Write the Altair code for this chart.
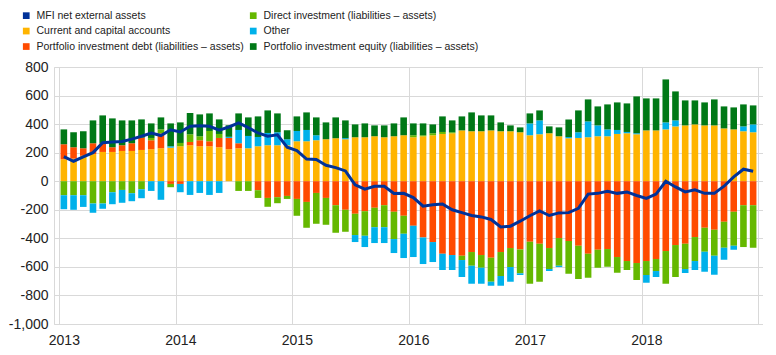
import altair as alt
import pandas as pd

years = ["2013", "2014", "2015", "2016", "2017", "2018"]

current = [154, 158, 178, 190, 205, 205, 212, 212, 219, 224, 231, 235,
           245, 252, 245, 245, 238, 224, 231, 231, 245, 252, 252, 252,
           280, 280, 287, 294, 301, 294, 308, 308, 315, 308, 315, 322,
           308, 315, 322, 331, 336, 356, 350, 350, 356, 350, 350, 343,
           322, 329, 336, 315, 301, 303, 308, 315, 315, 331, 336, 329,
           356, 356, 363, 384, 391, 398, 391, 391, 370, 363, 350, 343]
debt = [105, 80, 53, 76, 63, 33, 40, 54, 86, 63, 104, -19,
        -19, 23, 42, 35, 65, 79, 35, 0, -63, -117, -112, -103,
        -124, -145, -82, -117, -168, -200, -228, -210, -186, -168, -214, -242,
        -312, -394, -426, -508, -517, -522, -496, -517, -536, -496, -468, -478,
        -424, -438, -468, -398, -419, -452, -508, -480, -475, -531, -559, -573,
        -559, -545, -489, -447, -438, -391, -326, -340, -284, -214, -168, -168]
direct = [-98, -98, -98, -156, -156, -77, -61, -84, -56, 16, 28, -23,
          23, 54, 28, 72, 28, 0, -68, -68, -54, -62, -42, -21,
          -118, -181, -216, -188, -193, -154, -149, -172, -136, -154, -191, -126,
          14, 7, 14, 14, 7, -30, -96, -89, -168, -168, -133, -167,
          -294, -266, -147, -194, -229, -233, -168, -126, -124, -110, -63, -119,
          -98, -84, -229, -224, -177, -168, -168, -182, -182, -238, -293, -298]
other = [-98, -102, -82, -65, -37, -84, -90, -56, -63, -68, -130, 10,
         -58, -96, -82, -96, -82, 8, 93, 86, 65, 86, 91, 42,
         72, 79, 35, 0, 0, 8, -49, -79, -111, -111, -98, -170,
         -219, -186, -140, -114, -105, -119, -126, -112, -28, -68, -103, -12,
         83, 97, -14, -9, 9, 40, 111, 76, 48, 28, 9, 7,
         -54, -42, 49, 42, -28, -63, -140, -133, -84, -28, 34, 55]
equity = [104, 105, 119, 160, 193, 202, 174, 160, 128, 102, 84, 160,
          144, 149, 153, 123, 102, 81, 116, 130, 144, 158, 132, 63,
          102, 123, 125, 118, 146, 124, 90, 97, 76, 83, 90, 125,
          83, 83, 62, 109, 83, 98, 132, 111, 105, 62, 41, 34,
          70, 70, 48, 62, 123, 153, 154, 133, 175, 193, 200, 258,
          224, 224, 301, 203, 175, 168, 161, 182, 154, 154, 154, 133]
mfi = [172, 140, 170, 200, 270, 275, 278, 295, 315, 338, 320, 360,
       345, 385, 388, 385, 358, 380, 408, 375, 338, 315, 325, 238,
       215, 155, 152, 112, 95, 72, -25, -55, -35, -35, -86, -85,
       -115, -175, -165, -160, -200, -220, -240, -250, -268, -320, -315, -280,
       -242, -208, -240, -222, -220, -190, -90, -85, -70, -85, -75, -100,
       -120, -90, 0, -40, -75, -60, -85, -85, -35, 30, 84, 70]

N_MFI = "MFI net external assets"
N_CUR = "Current and capital accounts"
N_DEBT = "Portfolio investment debt (liabilities \u2013 assets)"
N_DIR = "Direct investment (liabilities \u2013 assets)"
N_OTH = "Other"
N_EQ = "Portfolio investment equity (liabilities \u2013 assets)"

# legend fills column by column
legend_domain = [N_MFI, N_CUR, N_DEBT, N_DIR, N_OTH, N_EQ]
legend_range = ["#003299", "#FFB400", "#FF4B00", "#65B800", "#00B1EA", "#007816"]

stack_series = [(N_CUR, current), (N_DEBT, debt), (N_DIR, direct),
                (N_OTH, other), (N_EQ, equity)]

rows = []
for order, (name, vals) in enumerate(stack_series):
    for i, v in enumerate(vals):
        rows.append({"m": i + 0.5, "series": name, "value": v, "ord": order})
bar_df = pd.DataFrame(rows)
line_df = pd.DataFrame({"m": [i + 0.5 for i in range(len(mfi))], "value": mfi})

n_months = len(mfi)
tick_vals = []
for k in range(len(years) + 1):
    tick_vals.append(12 * k)
    if k < len(years):
        tick_vals.append(12 * k + 0.5)

year_arr = "[" + ",".join("'" + y + "'" for y in years) + "]"
label_expr = "datum.value % 12 === 0.5 ? " + year_arr + "[floor(datum.value / 12)] : ''"

x_axis = alt.Axis(
    values=tick_vals,
    labelExpr=label_expr,
    title=None,
    gridOpacity={"condition": {"test": "datum.value % 12 === 0", "value": 1}, "value": 0},
    labelOverlap=False,
    labelFlush=False,
    labelPadding=9,
)
x_scale = alt.Scale(domain=[0, n_months], nice=False, zero=False)
y_scale = alt.Scale(domain=[-1000, 800], nice=False)
y_axis = alt.Axis(
    values=list(range(-1000, 801, 200)),
    labelExpr="(datum.value < 0 ? '-' : '') + format(abs(datum.value), ',d')",
    title=None,
    labelOverlap=False,
    labelFlush=False,
    labelPadding=6,
)

bars = alt.Chart(bar_df).mark_bar(width=6.6).encode(
    x=alt.X("m:Q", scale=x_scale, axis=x_axis),
    y=alt.Y("value:Q", stack="zero", scale=y_scale, axis=y_axis),
    color=alt.Color(
        "series:N",
        scale=alt.Scale(domain=legend_domain, range=legend_range),
        legend=alt.Legend(
            title=None,
            orient="none",
            legendX=-35,
            legendY=-58.7,
            columns=2,
            symbolType="square",
            symbolSize=45,
            symbolStrokeWidth=0,
            labelFont="Liberation Sans, Arial, sans-serif",
            labelFontSize=10.5,
            labelColor="#222222",
            labelLimit=500,
            labelOffset=5,
            columnPadding=4,
            rowPadding=4.5,
            padding=2,
        ),
    ),
    order=alt.Order("ord:Q", sort="ascending"),
)

line = alt.Chart(line_df).mark_line(strokeWidth=3, color="#003299").encode(
    x=alt.X("m:Q", scale=x_scale, axis=x_axis),
    y=alt.Y("value:Q", scale=y_scale, axis=y_axis),
)

chart = alt.layer(bars, line).properties(
    width=709, height=257, padding=0
).configure_view(
    stroke="#d9d9d9", strokeWidth=1
).configure_axis(
    gridColor="#d9d9d9",
    gridWidth=1,
    domain=False,
    ticks=False,
    tickSize=0,
    labelOverlap=False,
    labelFont="Liberation Sans, Arial, sans-serif",
    labelFontSize=14,
    labelColor="#222222",
    zindex=1,
).configure_axisY(
    labelOverlap=False,
)

chart.save("out.html", embed_options={"renderer": "svg", "actions": False})
